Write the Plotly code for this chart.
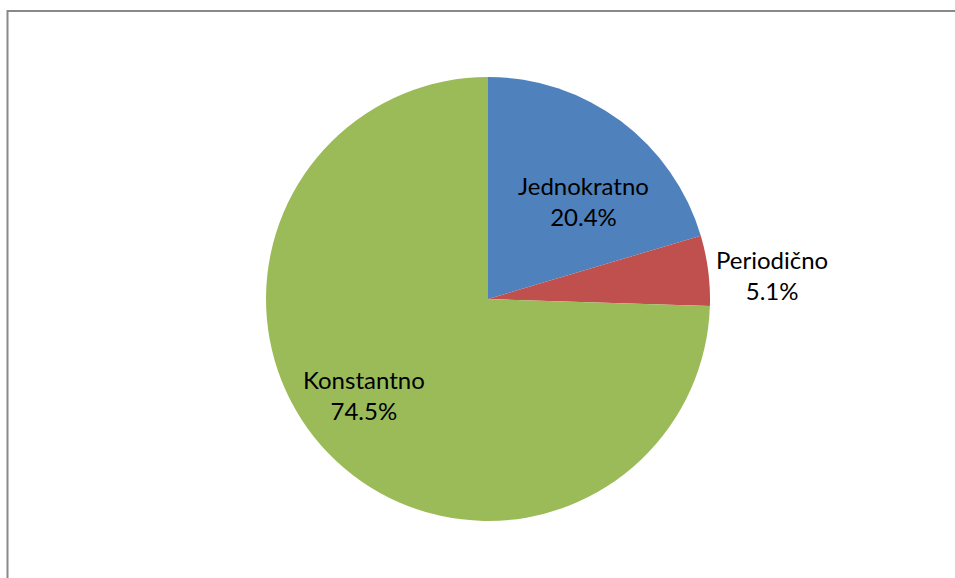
import plotly.graph_objects as go

categories = ["Jednokratno", "Periodično", "Konstantno"]
values = [20.4, 5.1, 74.5]
colors = ["#4F81BD", "#C0504D", "#9BBB59"]

W, H = 955, 578
cx, cy, r = 488, 299, 222
# label centres (pixels), mimicking the original's best-fit placement
label_px = [(583, 201), (772, 275), (364, 395)]

fig = go.Figure(go.Pie(
    labels=categories,
    values=values,
    sort=False,
    direction="clockwise",
    rotation=0,
    marker=dict(colors=colors, line=dict(width=0)),
    textinfo="none",
    showlegend=False,
    hoverinfo="label+percent",
    domain=dict(x=[(cx - r) / W, (cx + r) / W], y=[(H - cy - r) / H, (H - cy + r) / H]),
))

total = sum(values)
for lab, val, (px, py) in zip(categories, values, label_px):
    fig.add_annotation(
        x=px / W, y=1 - py / H, xref="paper", yref="paper",
        text=f"{lab}<br>{val / total * 100:.1f}%",
        showarrow=False, xanchor="center", yanchor="middle",
        font=dict(family="Lato", size=24, color="black"),
    )

fig.add_shape(type="rect", xref="paper", yref="paper",
              x0=7.5 / W, x1=1.05, y0=-0.05, y1=(H - 11) / H,
              line=dict(color="#898989", width=2), fillcolor="rgba(0,0,0,0)")

fig.update_layout(width=W, height=H, margin=dict(l=0, r=0, t=0, b=0),
                  paper_bgcolor="white", plot_bgcolor="white",
                  font=dict(family="Lato"))

fig.write_html("out.html", config={"displayModeBar": False},
               post_script="document.body.style.margin='0';document.body.style.padding='0';")
